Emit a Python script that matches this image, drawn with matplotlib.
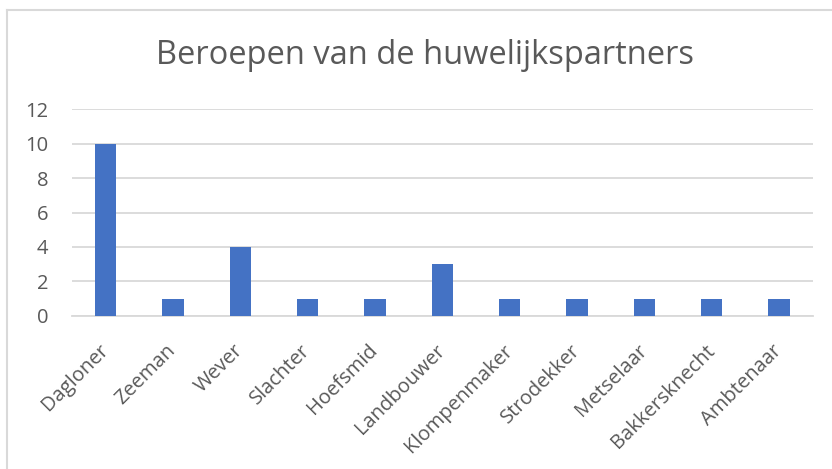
import matplotlib
matplotlib.use('Agg')
import matplotlib.pyplot as plt
from matplotlib.lines import Line2D

# Data
beroepen = ['Dagloner', 'Zeeman', 'Wever', 'Slachter', 'Hoefsmid', 'Landbouwer',
            'Klompenmaker', 'Strodekker', 'Metselaar', 'Bakkersknecht', 'Ambtenaar']
aantallen = [10, 1, 4, 1, 1, 3, 1, 1, 1, 1, 1]
y_ticks = [0, 2, 4, 6, 8, 10, 12]

plt.rcParams['font.family'] = ['Open Sans', 'DejaVu Sans']

fig = plt.figure(figsize=(8.32, 4.69), dpi=100)
ax = fig.add_axes([72 / 832, 1 - 315.7 / 469, (812.7 - 72) / 832, (315.7 - 109.3) / 469])

x = range(len(beroepen))
ax.bar(x, aantallen, width=0.32, color='#4472C4', zorder=3)

ax.set_xlim(-0.5, len(beroepen) - 0.5)
ax.set_ylim(0, 12)
ax.set_yticks(y_ticks)
ax.set_yticklabels([str(v) for v in y_ticks], color='#595959', fontsize=14.5)
ax.yaxis.grid(True, color='#d9d9d9', linewidth=1.3, zorder=0)
ax.tick_params(axis='y', length=0, pad=17)
ax.tick_params(axis='x', length=0, pad=23)
ax.set_xticks(list(x))
ax.set_xticklabels(beroepen, rotation=45, ha='right', va='center', rotation_mode='anchor',
                   color='#595959', fontsize=14.5)
for s in ['top', 'right', 'left']:
    ax.spines[s].set_visible(False)
ax.spines['bottom'].set_color('#d9d9d9')
ax.spines['bottom'].set_linewidth(1.3)

fig.text(425 / 832, 1 - 56 / 469, 'Beroepen van de huwelijkspartners',
         ha='center', va='center', fontsize=23.5, color='#595959')

# chart border (left and top only visible)
bx, by = 6.5 / 832, 1 - 10.5 / 469
fig.add_artist(Line2D([bx, 1], [by, by], transform=fig.transFigure, color='#d9d9d9', linewidth=1.5))
fig.add_artist(Line2D([bx, bx], [0, by], transform=fig.transFigure, color='#d9d9d9', linewidth=1.5))

fig.savefig('out.png', dpi=100)
